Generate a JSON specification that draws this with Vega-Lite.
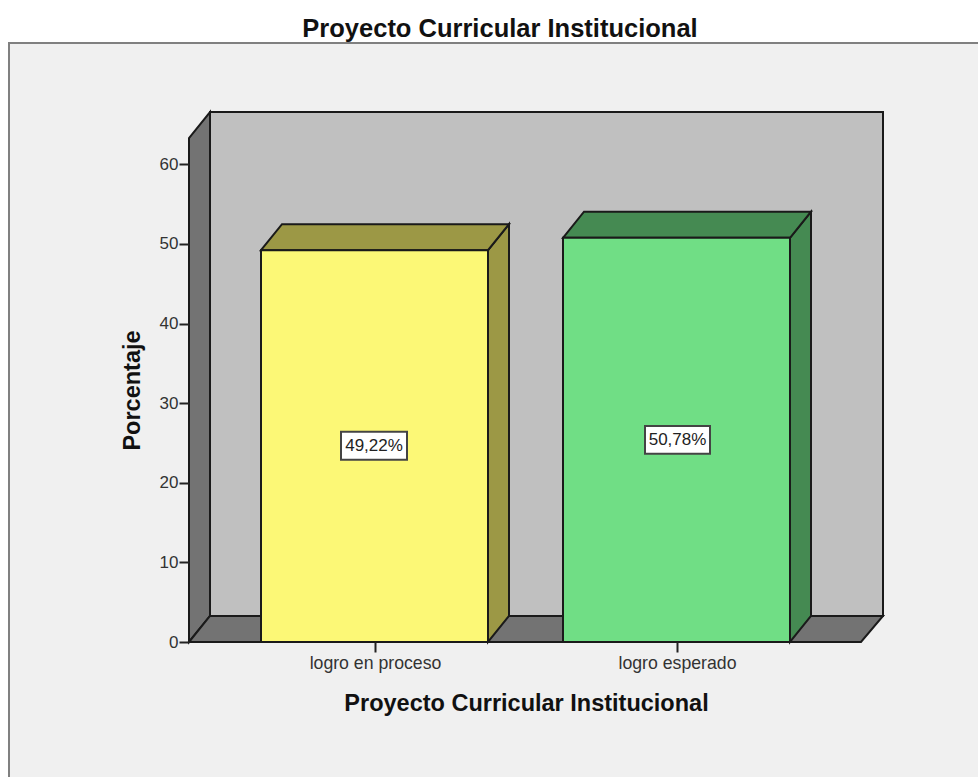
{
"$schema":"https://vega.github.io/schema/vega-lite/v6.json",
"width":694,"height":530,
"autosize":"none",
"padding":{"left":189,"top":112,"right":95,"bottom":135},
"background":"#ffffff",
"title":{"text":"Proyecto Curricular Institucional","font":"Liberation Sans","fontSize":25.5,"fontWeight":"bold","color":"#111111","anchor":"middle","dx":-36,"offset":-1},
"config":{"view":{"stroke":null}},
"encoding":{
 "x":{"field":"x","type":"quantitative","scale":{"domain":[0,694],"nice":false,"zero":false},
  "axis":{"values":[186,488],"labelExpr":"datum.value==186?'logro en proceso':'logro esperado'","title":"Proyecto Curricular Institucional","titleFont":"Liberation Sans","titleFontSize":23.5,"titleFontWeight":"bold","titleColor":"#111111","titleX":337,"titleY":61,"titleBaseline":"middle","labelFont":"Liberation Sans","labelFontSize":17.7,"labelColor":"#333333","labelPadding":2,"tickSize":10,"tickColor":"#222222","tickWidth":2,"domain":false,"grid":false,"zindex":1}},
 "y":{"field":"y","type":"quantitative","scale":{"domain":[0,66.58],"nice":false},
  "axis":{"values":[0,10,20,30,40,50,60],"title":"Porcentaje","titleFont":"Liberation Sans","titleFontSize":23.5,"titleFontWeight":"bold","titleColor":"#111111","titleX":-57,"titleY":278,"titleBaseline":"middle","labelFont":"Liberation Sans","labelFontSize":17,"labelColor":"#333333","labelPadding":1,"tickSize":10,"tickColor":"#222222","tickWidth":2,"domain":false,"grid":false,"zindex":1}}
},
"layer":[
 {"data":{"values":[{"x":-180,"x2":800,"y":75.25,"y2":-20}]},
  "mark":{"type":"rect","fill":"#f0f0f0","stroke":"#808080","strokeWidth":2},
  "encoding":{"x2":{"field":"x2"},"y2":{"field":"y2"}}},
 {"data":{"values":[{"x":21,"x2":694,"y":66.58,"y2":3.27}]},
  "mark":{"type":"rect","fill":"#c0c0c0","stroke":"#1a1a1a","strokeWidth":2},
  "encoding":{"x2":{"field":"x2"},"y2":{"field":"y2"}}},
 {"data":{"values":[{"x":0,"y":63.3,"y2":0},{"x":21,"y":66.58,"y2":3.27}]},
  "mark":{"type":"area","orient":"vertical","fill":"#737373","stroke":"#1a1a1a","strokeWidth":2},
  "encoding":{"y2":{"field":"y2"}}},
 {"data":{"values":[{"x":0,"y":0,"y2":0},{"x":21,"y":3.27,"y2":0},{"x":672,"y":3.27,"y2":0},{"x":694,"y":3.27,"y2":3.27}]},
  "mark":{"type":"area","orient":"vertical","fill":"#737373","stroke":"#1a1a1a","strokeWidth":2},
  "encoding":{"y2":{"field":"y2"}}},
 {"data":{"values":[
   {"cara":"lado proceso","x":299,"y":49.22,"y2":0},{"cara":"lado proceso","x":320,"y":52.49,"y2":3.27},
   {"cara":"lado esperado","x":601,"y":50.78,"y2":0},{"cara":"lado esperado","x":622,"y":54.05,"y2":3.27},
   {"cara":"tapa proceso","x":72,"y":49.22,"y2":49.22},{"cara":"tapa proceso","x":93,"y":52.49,"y2":49.22},{"cara":"tapa proceso","x":299,"y":52.49,"y2":49.22},{"cara":"tapa proceso","x":320,"y":52.49,"y2":52.49},
   {"cara":"tapa esperado","x":374,"y":50.78,"y2":50.78},{"cara":"tapa esperado","x":395,"y":54.05,"y2":50.78},{"cara":"tapa esperado","x":601,"y":54.05,"y2":50.78},{"cara":"tapa esperado","x":622,"y":54.05,"y2":54.05}
  ]},
  "mark":{"type":"area","orient":"vertical","stroke":"#1a1a1a","strokeWidth":2,"fillOpacity":1},
  "encoding":{"y2":{"field":"y2"},"fill":{"field":"cara","type":"nominal","legend":null,"scale":{"domain":["lado proceso","tapa proceso","lado esperado","tapa esperado","logro en proceso","logro esperado"],"range":["#9c9845","#9c9845","#458a52","#458a52","#fcf876","#70de85"]}}}},
 {"data":{"values":[
   {"cara":"logro en proceso","x":72,"x2":299,"y":49.22,"y2":0},
   {"cara":"logro esperado","x":374,"x2":601,"y":50.78,"y2":0}
  ]},
  "mark":{"type":"rect","stroke":"#1a1a1a","strokeWidth":2},
  "encoding":{"x2":{"field":"x2"},"y2":{"field":"y2"},"fill":{"field":"cara","type":"nominal","legend":null,"scale":{"domain":["lado proceso","tapa proceso","lado esperado","tapa esperado","logro en proceso","logro esperado"],"range":["#9c9845","#9c9845","#458a52","#458a52","#fcf876","#70de85"]}}}},
 {"data":{"values":[
   {"x":152,"x2":218,"y":26.4,"y2":22.9},
   {"x":456,"x2":521,"y":27.15,"y2":23.65}
  ]},
  "mark":{"type":"rect","fill":"#ffffff","stroke":"#444444","strokeWidth":2},
  "encoding":{"x2":{"field":"x2"},"y2":{"field":"y2"}}},
 {"data":{"values":[
   {"etiqueta":"49,22%","x":185,"y":24.61},
   {"etiqueta":"50,78%","x":488.5,"y":25.39}
  ]},
  "mark":{"type":"text","font":"Liberation Sans","fontSize":17,"color":"#222222","align":"center","baseline":"middle"},
  "encoding":{"text":{"field":"etiqueta","type":"nominal"}}}
]
}
